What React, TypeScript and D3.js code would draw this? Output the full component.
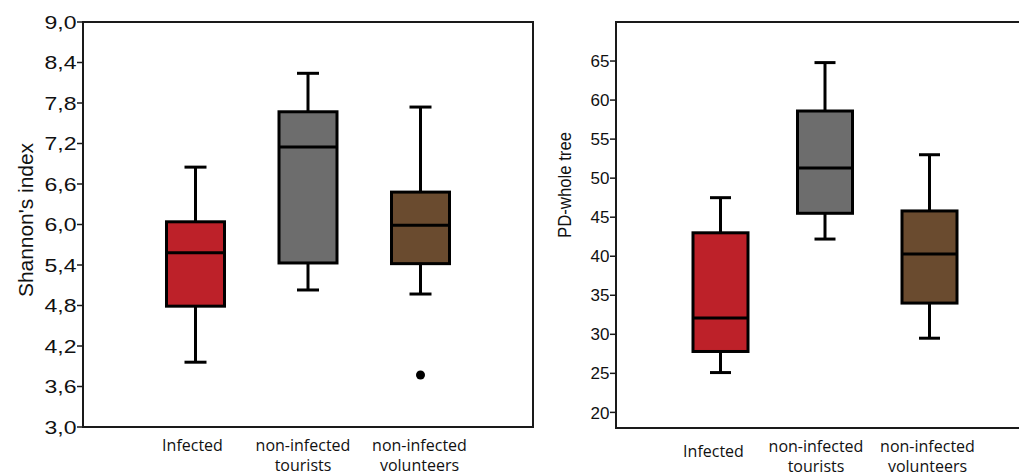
import React from "react";
import * as d3 from "d3";

const categories = ["Infected", "non-infected tourists", "non-infected volunteers"];
const categoryLines = [["Infected"], ["non-infected", "tourists"], ["non-infected", "volunteers"]];
const boxColors = ["#bd2129", "#6d6d6d", "#6a4b2f"];

// Shannon's index
const shannonMin = [3.96, 5.03, 4.97];
const shannonQ1 = [4.79, 5.43, 5.42];
const shannonMedian = [5.58, 7.15, 5.99];
const shannonQ3 = [6.04, 7.67, 6.48];
const shannonMax = [6.85, 8.24, 7.74];
const shannonOutliers = [[], [], [3.77]];
const shannonTicks = [3.0, 3.6, 4.2, 4.8, 5.4, 6.0, 6.6, 7.2, 7.8, 8.4, 9.0];

// PD-whole tree
const pdMin = [25.1, 42.2, 29.5];
const pdQ1 = [27.8, 45.5, 34.0];
const pdMedian = [32.1, 51.3, 40.3];
const pdQ3 = [43.0, 58.6, 45.8];
const pdMax = [47.5, 64.8, 53.0];
const pdOutliers: number[][] = [[], [], []];
const pdTicks = [20, 25, 30, 35, 40, 45, 50, 55, 60, 65];

type PanelProps = {
  x0: number; x1: number; y0: number; y1: number;
  domain: [number, number];
  ticks: number[];
  fmt: (v: number) => string;
  mins: number[]; q1: number[]; med: number[]; q3: number[]; maxs: number[];
  outliers: number[][];
  title: string; titleX: number; titleY: number; titleSize: number; titleLen?: number;
  boxW: number; capW: number;
  labelY: number[]; labelDx: number[];
  tickSize: number; tickLabelLen?: number;
};

function Panel(p: PanelProps) {
  const x = d3.scalePoint<string>().domain(categories).range([p.x0, p.x1]).padding(1);
  const y = d3.scaleLinear().domain(p.domain).range([p.y1, p.y0]);
  const font = "'Liberation Sans', Arial, sans-serif";
  return (
    <g>
      <rect x={p.x0} y={p.y0} width={p.x1 - p.x0} height={p.y1 - p.y0} fill="none" stroke="#1a1a1a" strokeWidth={2} />
      {p.ticks.map((t) => (
        <g key={t}>
          <line x1={p.x0 - 6} x2={p.x0} y1={y(t)} y2={y(t)} stroke="#1a1a1a" strokeWidth={1.5} />
          <text x={p.x0 - 6.5} y={y(t)} dy="0.36em" textAnchor="end" fontFamily={font} fontSize={p.tickSize} fill="#111"
            {...(p.tickLabelLen ? { textLength: p.tickLabelLen, lengthAdjust: "spacingAndGlyphs" } : {})}>
            {p.fmt(t)}
          </text>
        </g>
      ))}
      <text transform={`translate(${p.titleX},${p.titleY}) rotate(-90)`} textAnchor="middle" fontFamily={font} fontSize={p.titleSize} fill="#111"
        {...(p.titleLen ? { textLength: p.titleLen, lengthAdjust: "spacingAndGlyphs" } : {})}>
        {p.title}
      </text>
      {categories.map((c, i) => {
        const cx = x(c)!;
        return (
          <g key={c}>
            <line x1={cx} x2={cx} y1={y(p.maxs[i])} y2={y(p.q3[i])} stroke="#000" strokeWidth={3} />
            <line x1={cx} x2={cx} y1={y(p.q1[i])} y2={y(p.mins[i])} stroke="#000" strokeWidth={3} />
            <line x1={cx - p.capW / 2} x2={cx + p.capW / 2} y1={y(p.maxs[i])} y2={y(p.maxs[i])} stroke="#000" strokeWidth={3} />
            <line x1={cx - p.capW / 2} x2={cx + p.capW / 2} y1={y(p.mins[i])} y2={y(p.mins[i])} stroke="#000" strokeWidth={3} />
            <rect x={cx - p.boxW / 2} y={y(p.q3[i])} width={p.boxW} height={y(p.q1[i]) - y(p.q3[i])} fill={boxColors[i]} stroke="#000" strokeWidth={3} />
            <line x1={cx - p.boxW / 2} x2={cx + p.boxW / 2} y1={y(p.med[i])} y2={y(p.med[i])} stroke="#000" strokeWidth={3} />
            {p.outliers[i].map((o, k) => (
              <circle key={k} cx={cx} cy={y(o)} r={4.5} fill="#000" />
            ))}
            {categoryLines[i].map((ln, k) => (
              <text key={k} x={cx + p.labelDx[i]} y={p.labelY[i] + k * 20} textAnchor="middle" fontFamily="'Open Sans', sans-serif" fontSize={16} fill="#111">
                {ln}
              </text>
            ))}
          </g>
        );
      })}
    </g>
  );
}

export default function App() {
  const comma = (v: number) => v.toFixed(1).replace(".", ",");
  const plain = (v: number) => String(v);
  return (
    <svg width={1019} height={475} style={{ position: "absolute", left: 0, top: 0, background: "#fff" }}>
      <Panel x0={83} x1={533} y0={22} y1={427} domain={[3, 9]} ticks={shannonTicks} fmt={comma}
        mins={shannonMin} q1={shannonQ1} med={shannonMedian} q3={shannonQ3} maxs={shannonMax} outliers={shannonOutliers}
        title="Shannon's index" titleX={33} titleY={220} titleSize={20} titleLen={154} boxW={58} capW={22}
        labelY={[451, 451, 451]} labelDx={[-3, -5, -1]} tickSize={19} tickLabelLen={32} />
      <Panel x0={616} x1={1034} y0={22} y1={428} domain={[18, 70]} ticks={pdTicks} fmt={plain}
        mins={pdMin} q1={pdQ1} med={pdMedian} q3={pdQ3} maxs={pdMax} outliers={pdOutliers}
        title="PD-whole tree" titleX={571} titleY={185} titleSize={19} titleLen={106} boxW={55} capW={21}
        labelY={[457, 452, 452]} labelDx={[-7, -9, -2]} tickSize={17} />
    </svg>
  );
}
